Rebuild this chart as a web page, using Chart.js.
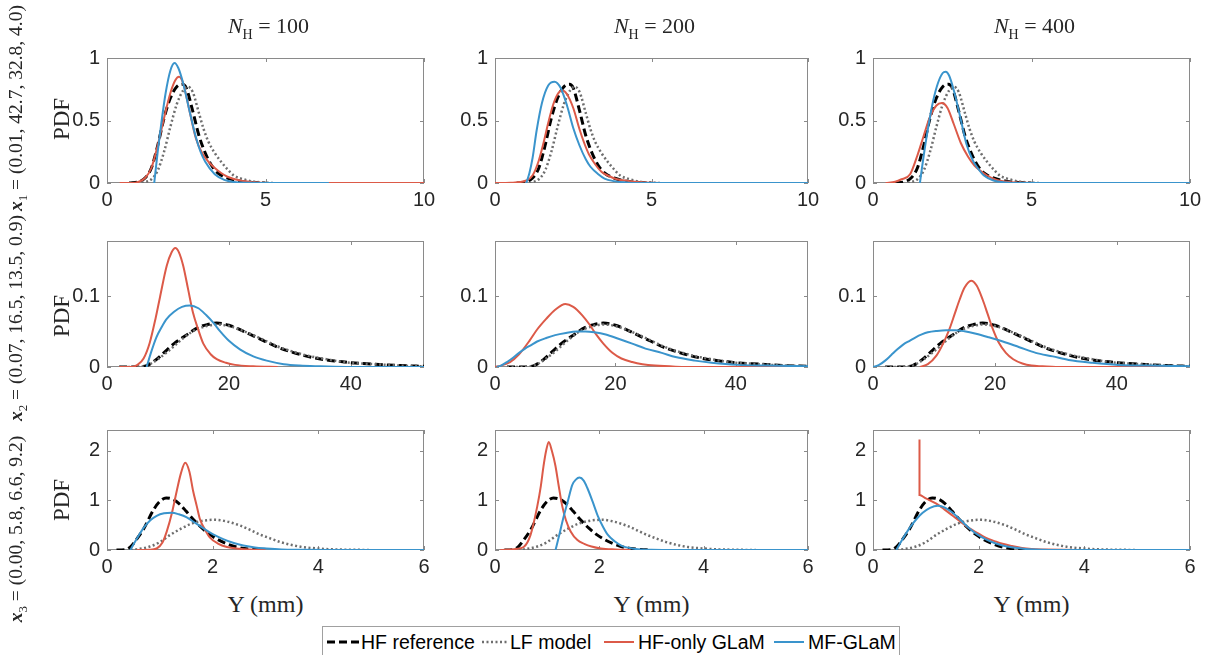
<!DOCTYPE html>
<html>
<head>
<meta charset="utf-8">
<script src="https://cdn.jsdelivr.net/npm/chart.js@4.4.0/dist/chart.umd.min.js"></script>
<style>
  body { margin: 0; width: 1210px; height: 655px; background: #fff; position: relative; overflow: hidden; }
  canvas { position: absolute; }
  .lbl { position: absolute; font-family: "Liberation Serif", "Times New Roman", serif; color: #262626; white-space: nowrap; transform: translate(-50%, -50%); }
  .rot { transform: translate(-50%, -50%) rotate(-90deg); }
  .legend { position: absolute; left: 322px; top: 626px; width: 578px; height: 34px; border: 1px solid #a0a0a0; box-sizing: border-box; background: #fff;
            font-family: "Liberation Sans", Arial, sans-serif; font-size: 19.5px; color: #000; }
  .legend span { position: absolute; top: 3px; line-height: 24px; white-space: nowrap; }
  .legend svg { position: absolute; top: 8px; }
</style>
</head>
<body>
<div class="legend">
  <svg style="left:4px" width="32" height="14"><line x1="0" y1="7" x2="32" y2="7" stroke="#000" stroke-width="3" stroke-dasharray="8,4"/></svg><span style="left:38px">HF reference</span>
  <svg style="left:159px" width="25" height="14"><line x1="0" y1="7" x2="25" y2="7" stroke="#6e6e6e" stroke-width="2.5" stroke-dasharray="2,2.5"/></svg><span style="left:187px">LF model</span>
  <svg style="left:281px" width="30" height="14"><line x1="0" y1="7" x2="30" y2="7" stroke="#dc5a48" stroke-width="2"/></svg><span style="left:315px">HF-only GLaM</span>
  <svg style="left:451px" width="30" height="14"><line x1="0" y1="7" x2="30" y2="7" stroke="#3a94cc" stroke-width="2"/></svg><span style="left:485px">MF-GLaM</span>
</div>
<script>
// ---- labels ----
const nhValues = [100, 200, 400]
const rowParams = ["(0.01, 42.7, 32.8, 4.0)", "(0.07, 16.5, 13.5, 0.9)", "(0.00, 5.8, 6.6, 9.2)"]

// ---- axes (per row) ----
const xTicksR1 = [0, 5, 10]
const yTicksR1 = [0, 0.5, 1]
const xTicksR2 = [0, 20, 40]
const yTicksR2 = [0, 0.1]
const xTicksR3 = [0, 2, 4, 6]
const yTicksR3 = [0, 1, 2]
const xMaxRows = [10, 52, 6]
const yMaxRows = [1, 0.178, 2.42]

// ---- row 1 curves [Y, PDF] ----
const hfRefR1 = [[0.7,0],[1.0,0.01],[1.2,0.04],[1.4,0.12],[1.6,0.3],[1.8,0.52],[2.0,0.68],[2.2,0.77],[2.38,0.79],[2.5,0.76],[2.7,0.58],[2.9,0.38],[3.1,0.24],[3.3,0.14],[3.5,0.08],[3.8,0.04],[4.2,0.015],[4.6,0.004],[5.0,0]]
const lfModelR1 = [[1.1,0],[1.4,0.03],[1.6,0.1],[1.8,0.25],[2.0,0.45],[2.2,0.63],[2.4,0.74],[2.55,0.77],[2.7,0.73],[2.9,0.56],[3.05,0.43],[3.2,0.33],[3.4,0.24],[3.6,0.17],[3.8,0.11],[4.0,0.06],[4.3,0.03],[4.6,0.012],[5.0,0.003],[5.3,0]]
const hfOnlyR1N100 = [[0.4,0],[0.8,0],[1.0,0.01],[1.2,0.04],[1.4,0.12],[1.6,0.3],[1.8,0.52],[2.0,0.72],[2.15,0.82],[2.27,0.85],[2.4,0.8],[2.6,0.58],[2.8,0.36],[3.0,0.24],[3.2,0.17],[3.4,0.12],[3.6,0.08],[3.8,0.05],[4.2,0.02],[4.6,0.007],[5.2,0.001],[6,0],[10,0]]
const hfOnlyR1N200 = [[0,0],[0.5,0.002],[1.0,0.02],[1.2,0.06],[1.4,0.18],[1.55,0.32],[1.7,0.48],[1.85,0.62],[2.0,0.71],[2.15,0.74],[2.3,0.71],[2.5,0.6],[2.7,0.43],[2.85,0.32],[3.0,0.23],[3.2,0.15],[3.4,0.09],[3.6,0.06],[3.9,0.03],[4.3,0.015],[4.8,0.005],[5.5,0.001],[10,0]]
const hfOnlyR1N400 = [[0.4,0],[0.7,0.01],[0.9,0.03],[1.17,0.07],[1.4,0.22],[1.59,0.37],[1.8,0.53],[2.0,0.62],[2.17,0.64],[2.35,0.6],[2.55,0.47],[2.77,0.32],[3.0,0.21],[3.2,0.14],[3.38,0.1],[3.6,0.06],[3.9,0.025],[4.3,0.008],[4.8,0.002],[5.3,0],[10,0]]
const mfGlamR1N100 = [[1.49,0],[1.6,0.25],[1.72,0.49],[1.85,0.72],[2.0,0.9],[2.13,0.96],[2.25,0.92],[2.4,0.8],[2.6,0.58],[2.8,0.37],[2.95,0.25],[3.1,0.17],[3.4,0.07],[3.7,0.025],[4.0,0.008],[4.5,0.002],[5,0],[7,0]]
const mfGlamR1N200 = [[1.0,0],[1.1,0.08],[1.2,0.2],[1.33,0.42],[1.5,0.64],[1.7,0.78],[1.9,0.81],[2.1,0.76],[2.3,0.62],[2.5,0.44],[2.7,0.3],[2.9,0.19],[3.05,0.13],[3.3,0.07],[3.5,0.035],[3.8,0.015],[4.2,0.004],[4.5,0],[10,0]]
const mfGlamR1N400 = [[1.48,0],[1.6,0.22],[1.75,0.46],[1.9,0.66],[2.05,0.8],[2.2,0.88],[2.29,0.89],[2.4,0.86],[2.55,0.74],[2.75,0.53],[2.95,0.31],[3.15,0.18],[3.3,0.12],[3.5,0.06],[3.8,0.02],[4.2,0.005],[4.6,0],[10,0]]

// ---- row 2 curves ----
const hfRefR2 = [[2,0],[5,0],[6.5,0.002],[8,0.01],[9.8,0.024],[11,0.033],[13,0.045],[15,0.056],[16.5,0.06],[18,0.062],[20,0.059],[22,0.052],[24,0.044],[26,0.036],[28,0.028],[30,0.022],[32,0.017],[34,0.013],[36,0.01],[38,0.008],[40,0.006],[44,0.004],[48,0.002],[52,0.001]]
const lfModelR2 = [[2,0],[5,0.0005],[6.5,0.002],[8,0.009],[10,0.022],[12,0.037],[14,0.05],[16,0.057],[18,0.06],[20,0.058],[22,0.052],[24,0.045],[26,0.037],[28,0.029],[30,0.023],[32,0.018],[34,0.014],[36,0.011],[38,0.008],[40,0.006],[44,0.004],[48,0.002],[52,0.001]]
const hfOnlyR2N100 = [[2,0],[4,0],[5,0.003],[6,0.012],[7,0.034],[8,0.07],[8.7,0.099],[9.8,0.143],[10.6,0.162],[11.2,0.168],[11.8,0.162],[12.5,0.143],[13.3,0.11],[14.1,0.077],[15,0.052],[15.8,0.033],[17,0.018],[18,0.011],[19.5,0.006],[21,0.003],[24,0.001],[28,0]]
const hfOnlyR2N200 = [[0,0],[1,0.002],[2.5,0.007],[4,0.018],[5.8,0.038],[7,0.053],[8.5,0.068],[10,0.081],[11.7,0.089],[13,0.085],[14.5,0.073],[15.7,0.06],[16.8,0.046],[18,0.033],[19.5,0.02],[21,0.012],[22.8,0.007],[24.5,0.004],[26.6,0.002],[30,0.0005],[35,0],[52,0]]
const hfOnlyR2N400 = [[7.7,0],[9,0.004],[10.4,0.016],[11.5,0.033],[12.6,0.055],[13.4,0.075],[14.2,0.095],[15,0.112],[16.1,0.122],[17,0.115],[18,0.095],[18.8,0.075],[19.6,0.055],[20.6,0.035],[21.8,0.02],[23,0.011],[24.5,0.005],[26,0.002],[27.8,0.001],[30,0],[52,0]]
const mfGlamR2N100 = [[6.5,0],[7.2,0.02],[8.1,0.042],[9,0.057],[9.8,0.068],[11,0.078],[12.3,0.085],[13.6,0.087],[15,0.083],[16.3,0.073],[17.5,0.062],[18.5,0.051],[20,0.037],[21.8,0.025],[24,0.015],[26.2,0.009],[29,0.004],[31.6,0.002],[35,0.001],[40,0],[52,0]]
const mfGlamR2N200 = [[0.3,0],[1,0.002],[2,0.007],[3,0.013],[4,0.02],[5,0.026],[6,0.031],[7,0.036],[8.5,0.041],[10,0.045],[11.8,0.048],[13.5,0.05],[15,0.05],[16.5,0.049],[18.4,0.046],[20.5,0.04],[22.8,0.033],[25,0.026],[27.7,0.02],[30,0.014],[33.2,0.009],[36,0.006],[40.3,0.003],[45,0.002],[52,0.001]]
const mfGlamR2N400 = [[0,0],[1,0.003],[2,0.009],[3,0.017],[4,0.025],[5,0.032],[6,0.037],[7,0.042],[8,0.046],[9,0.049],[10.5,0.051],[12,0.052],[13.5,0.052],[15,0.0505],[16.9,0.047],[19,0.042],[21.3,0.036],[24,0.028],[26.7,0.02],[29.5,0.015],[32.1,0.01],[36,0.006],[40.3,0.003],[45,0.002],[52,0.001]]

// ---- row 3 curves ----
const hfRefR3 = [[0.18,0],[0.35,0.01],[0.45,0.07],[0.55,0.2],[0.69,0.42],[0.88,0.81],[1.0,0.98],[1.12,1.05],[1.25,1.02],[1.38,0.92],[1.5,0.78],[1.63,0.62],[1.8,0.44],[1.95,0.31],[2.1,0.21],[2.27,0.125],[2.45,0.06],[2.6,0.03],[2.8,0.01],[2.95,0]]
const lfModelR3 = [[0.45,0],[0.6,0.02],[0.81,0.07],[1.0,0.16],[1.19,0.3],[1.4,0.43],[1.6,0.53],[1.82,0.59],[2.05,0.61],[2.25,0.58],[2.5,0.5],[2.7,0.41],[2.9,0.31],[3.1,0.23],[3.28,0.16],[3.5,0.1],[3.7,0.06],[4.0,0.03],[4.3,0.012],[4.7,0.004],[5.0,0]]
const hfOnlyR3N100 = [[0.56,0],[0.8,0.005],[0.94,0.03],[1.05,0.15],[1.13,0.37],[1.23,0.75],[1.32,1.19],[1.4,1.55],[1.48,1.76],[1.56,1.58],[1.63,1.19],[1.7,0.88],[1.76,0.62],[1.85,0.42],[1.95,0.25],[2.1,0.13],[2.27,0.06],[2.5,0.025],[2.7,0.01],[3.0,0]]
const hfOnlyR3N200 = [[0.1,0],[0.4,0.02],[0.55,0.06],[0.68,0.3],[0.81,0.88],[0.88,1.3],[0.93,1.69],[0.98,2.0],[1.03,2.18],[1.09,2.0],[1.16,1.69],[1.22,1.3],[1.29,0.88],[1.36,0.6],[1.45,0.375],[1.58,0.2],[1.71,0.125],[1.85,0.07],[2.03,0.03],[2.3,0.01],[2.6,0]]
const hfOnlyR3N400 = [[0.88,2.23],[0.88,1.11],[1.0,1.04],[1.19,0.94],[1.35,0.82],[1.51,0.69],[1.67,0.56],[1.82,0.44],[1.98,0.34],[2.13,0.25],[2.3,0.18],[2.45,0.125],[2.63,0.08],[2.82,0.04],[3.0,0.02],[3.26,0.01],[3.6,0.003],[4,0]]
const mfGlamR3N100 = [[0.44,0],[0.55,0.2],[0.69,0.44],[0.82,0.6],[0.94,0.69],[1.08,0.74],[1.22,0.75],[1.36,0.72],[1.51,0.66],[1.65,0.56],[1.82,0.44],[2.0,0.32],[2.2,0.22],[2.4,0.14],[2.58,0.09],[2.8,0.05],[3.02,0.03],[3.3,0.012],[3.65,0.005],[4.2,0.001],[4.8,0],[6,0]]
const mfGlamR3N200 = [[1.16,0],[1.22,0.25],[1.32,0.69],[1.4,1.0],[1.48,1.31],[1.55,1.42],[1.62,1.46],[1.7,1.4],[1.77,1.25],[1.87,0.98],[1.97,0.69],[2.07,0.47],[2.16,0.31],[2.3,0.17],[2.42,0.09],[2.58,0.04],[2.74,0.015],[3.0,0.003],[3.3,0],[6,0]]
const mfGlamR3N400 = [[0.44,0],[0.55,0.2],[0.69,0.44],[0.82,0.62],[0.94,0.75],[1.08,0.85],[1.23,0.89],[1.37,0.85],[1.51,0.75],[1.66,0.6],[1.82,0.44],[1.98,0.31],[2.13,0.22],[2.3,0.14],[2.45,0.09],[2.65,0.05],[2.89,0.02],[3.2,0.006],[3.6,0.001],[4,0],[6,0]]

const rows = [
    { xTicks: xTicksR1, yTicks: yTicksR1, hf: hfRefR1, lf: lfModelR1, red: [hfOnlyR1N100, hfOnlyR1N200, hfOnlyR1N400], blue: [mfGlamR1N100, mfGlamR1N200, mfGlamR1N400] },
    { xTicks: xTicksR2, yTicks: yTicksR2, hf: hfRefR2, lf: lfModelR2, red: [hfOnlyR2N100, hfOnlyR2N200, hfOnlyR2N400], blue: [mfGlamR2N100, mfGlamR2N200, mfGlamR2N400] },
    { xTicks: xTicksR3, yTicks: yTicksR3, hf: hfRefR3, lf: lfModelR3, red: [hfOnlyR3N100, hfOnlyR3N200, hfOnlyR3N400], blue: [mfGlamR3N100, mfGlamR3N200, mfGlamR3N400] },
]

// plot-area boxes in page pixels
const colLeft = [107, 495, 873]
const colRight = [424, 808, 1190]
const rowTop = [49, 232, 421]
const rowBottom = [183, 367, 550]
const Y_AXIS_W = 60, X_AXIS_H = 36, PAD_T = 10, PAD_R = 20

const RED = "#dc5a48"
const BLUE = "#3a94cc"
const GREY = "#6e6e6e"
const tickFont = { family: "'Liberation Sans', Arial, sans-serif", size: 20 }

const toPts = (arr) => arr.map(([x, y]) => ({ x, y }))

// box + inward ticks, like a MATLAB axes
const framePlugin = {
    id: "frame",
    beforeDatasetsDraw(chart) {
        const { ctx, chartArea: a, scales } = chart
        ctx.save()
        ctx.strokeStyle = "#8a8a8a"
        ctx.lineWidth = 1
        ctx.strokeRect(a.left + 0.5, a.top + 0.5, a.width - 1, a.height - 1)
        ctx.beginPath()
        scales.x.ticks.forEach((t) => {
            const p = Math.round(scales.x.getPixelForValue(t.value)) + 0.5
            ctx.moveTo(p, a.bottom); ctx.lineTo(p, a.bottom - 4)
            ctx.moveTo(p, a.top); ctx.lineTo(p, a.top + 4)
        })
        scales.y.ticks.forEach((t) => {
            const p = Math.round(scales.y.getPixelForValue(t.value)) + 0.5
            ctx.moveTo(a.left, p); ctx.lineTo(a.left + 4, p)
            ctx.moveTo(a.right, p); ctx.lineTo(a.right - 4, p)
        })
        ctx.stroke()
        ctx.restore()
    },
}

const addLabel = (html, x, y, size, rotate) => {
    const d = document.createElement("div")
    d.className = "lbl" + (rotate ? " rot" : "")
    d.style.left = x + "px"
    d.style.top = y + "px"
    d.style.fontSize = size + "px"
    d.innerHTML = html
    document.body.appendChild(d)
}

rows.forEach((row, r) => {
    nhValues.forEach((nh, c) => {
        const L = colLeft[c], T = rowTop[r]
        const W = colRight[c] - L, H = rowBottom[r] - T
        const canvas = document.createElement("canvas")
        canvas.width = W + Y_AXIS_W + PAD_R
        canvas.height = H + PAD_T + X_AXIS_H
        canvas.style.left = L - Y_AXIS_W + "px"
        canvas.style.top = T - PAD_T + "px"
        document.body.appendChild(canvas)

        const line = (data, color, width, dash) => ({
            data: toPts(data), borderColor: color, borderWidth: width, borderDash: dash || [],
            pointRadius: 0, showLine: true, fill: false, cubicInterpolationMode: "monotone",
        })

        new Chart(canvas, {
            type: "scatter",
            data: {
                datasets: [
                    line(row.blue[c], BLUE, 2),
                    line(row.red[c], RED, 2),
                    line(row.lf, GREY, 2.5, [2, 2.5]),
                    line(row.hf, "#000", 3, [8, 4]),
                ],
            },
            options: {
                responsive: false,
                devicePixelRatio: 1,
                animation: false,
                layout: { padding: { top: PAD_T, right: PAD_R, left: 0, bottom: 0 } },
                plugins: { legend: { display: false }, tooltip: { enabled: false } },
                scales: {
                    x: {
                        type: "linear", min: 0, max: xMaxRows[r],
                        grid: { display: false, drawTicks: false },
                        border: { display: false },
                        afterBuildTicks: (s) => { s.ticks = row.xTicks.map((v) => ({ value: v })) },
                        afterFit: (s) => { s.height = X_AXIS_H },
                        ticks: { font: tickFont, color: "#262626", padding: 5, maxRotation: 0, callback: (v) => String(v) },
                    },
                    y: {
                        type: "linear", min: 0, max: yMaxRows[r],
                        grid: { display: false, drawTicks: false },
                        border: { display: false },
                        afterBuildTicks: (s) => { s.ticks = row.yTicks.map((v) => ({ value: v })) },
                        afterFit: (s) => { s.width = Y_AXIS_W },
                        ticks: { font: tickFont, color: "#262626", padding: 7, callback: (v) => String(v) },
                    },
                },
            },
            plugins: [framePlugin],
        })

        if (r === 0) addLabel("<i>N</i><sub style='font-size:14px'>H</sub> = " + nh, (L + colRight[c]) / 2 + 3, 28, 22)
        if (r === 2) addLabel("Y (mm)", (L + colRight[c]) / 2, 604, 24)
    })
})

// row labels
const pdfY = [119, 316, 500]
const rowLabelY = [108, 318, 529]
rowParams.forEach((p, r) => {
    addLabel("PDF", 62, pdfY[r], 23, true)
    addLabel("<b><i>x</i></b><sub style='font-size:13px'>" + (r + 1) + "</sub> = " + p, 18, rowLabelY[r], 19.5, true)
})
</script>
</body>
</html>
